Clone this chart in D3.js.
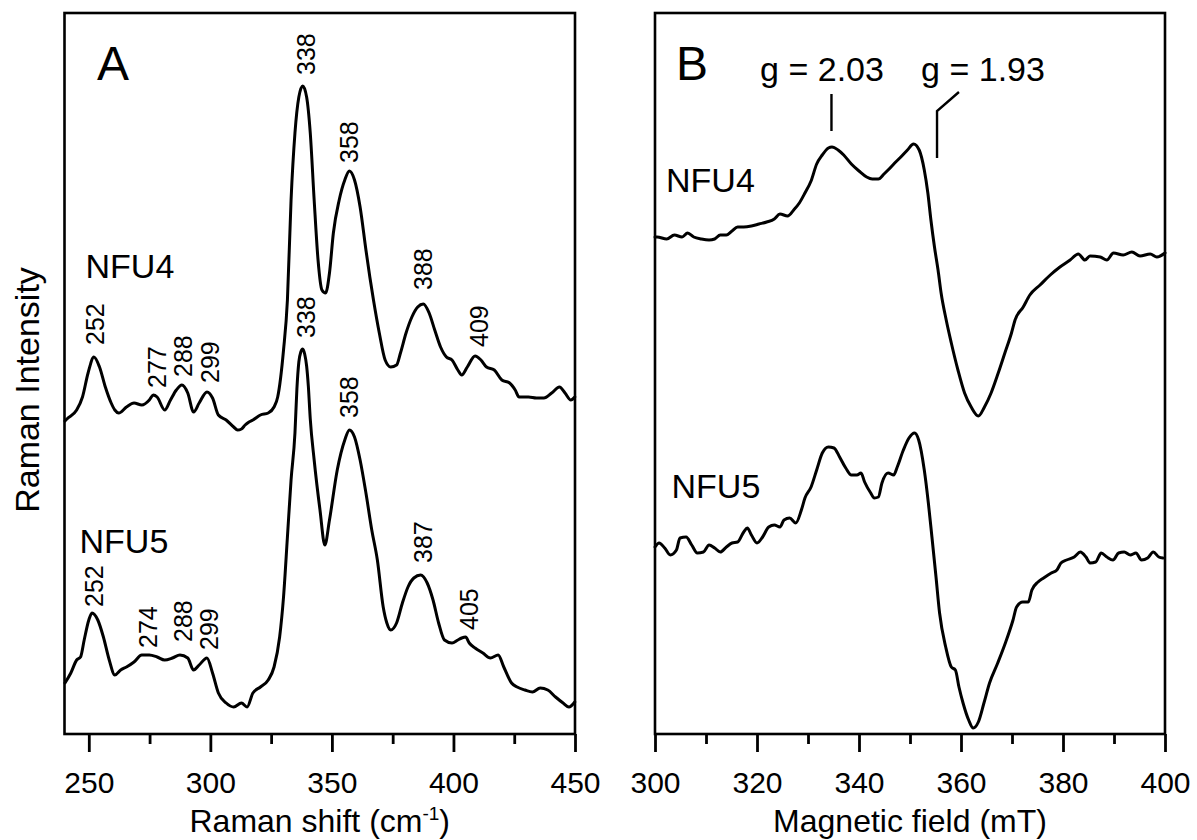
<!DOCTYPE html>
<html><head><meta charset="utf-8">
<script src="https://cdn.jsdelivr.net/npm/d3@7/dist/d3.min.js"></script>
<style>
body{margin:0;background:#fff}
svg{display:block}
text{font-family:"Liberation Sans",Arial,Helvetica,sans-serif;fill:#000}
</style></head><body>
<svg id="chart" width="1197" height="840"></svg>
<script>
// ---------------- DATA ----------------
// Panel A: Raman spectra (x: Raman shift, cm-1; y: intensity, arbitrary units)
const ramanShiftNFU4 = [240.2,241.0,245.0,247.4,249.7,252.1,254.4,256.8,259.2,260.7,262.3,265.5,268.6,271.8,274.9,276.5,278.1,281.2,283.6,286.0,288.3,290.7,293.1,295.4,298.6,300.9,303.3,306.5,309.6,311.2,312.8,314.3,315.9,317.5,320.6,323.8,326.2,327.7,330.1,331.7,333.2,334.8,336.4,338.0,339.6,341.1,342.7,344.3,345.9,347.4,349.0,350.6,353.0,355.3,357.2,359.3,361.6,364.0,365.6,367.1,369.5,371.9,374.2,376.6,378.2,380.5,382.9,385.3,387.6,390.0,392.3,394.7,397.1,399.4,401.8,403.4,405.7,408.9,411.3,413.6,416.8,419.9,423.1,425.4,427.0,430.9,434.1,437.2,440.4,443.6,445.9,448.3,449.9];
const ramanNFU4 = [313,315,324,337,361,377,367,347,331,324,321,327,331,329,334,339,337,324,334,344,349,341,322,331,342,336,319,314,307,304,305,309,312,314,319,321,327,337,384,434,534,601,637,648,637,601,534,474,444,441,461,501,534,554,563,554,527,484,457,434,401,374,367,369,381,401,417,427,430,421,404,387,377,374,364,359,367,378,374,367,364,354,351,344,337,337,336,336,341,347,341,334,337];

const ramanShiftNFU5 = [240.2,242.6,245.0,246.6,248.1,250.0,251.3,253.7,256.0,258.4,260.7,263.1,265.5,268.6,271.8,274.9,278.1,281.2,284.4,287.5,290.7,293.1,295.4,298.6,300.9,303.3,306.5,309.6,312.8,315.1,317.5,320.6,323.8,326.2,328.5,330.1,331.7,333.2,334.8,335.6,336.4,337.2,338.0,338.8,339.6,340.3,341.1,342.7,345.1,347.1,349.0,352.2,355.3,357.2,359.3,361.6,364.0,366.4,368.7,371.1,372.6,374.2,376.6,379.0,381.3,383.7,386.5,389.2,391.6,393.9,396.3,399.4,401.8,403.4,405.0,406.5,408.9,412.1,415.2,418.4,420.7,423.9,426.2,429.4,432.5,435.7,438.8,442.0,445.1,447.5,449.9];
const ramanNFU5 = [51,61,74,77,94,114,121,114,97,74,59,64,67,72,79,79,77,74,76,79,76,64,69,76,61,41,31,27,31,27,41,47,54,67,97,137,197,254,301,345,372,382,385,380,368,348,315,274,224,189,214,264,294,304,297,274,241,204,174,127,111,104,111,131,147,156,159,151,134,111,94,91,94,96,97,91,86,81,76,79,67,51,47,44,42,46,44,37,31,27,32];

// Peak annotations, panel A
const peakTextNFU4  = ["252","277","288","299","338","358","388","409"];
const peakShiftNFU4 = [252.6,278.1,288.8,299.9,339.6,357.2,387.6,410.5];
const peakLevelNFU4 = [389,346,357,351,659,571,444,387];
const peakTextNFU5  = ["252","274","288","299","338","358","387","405"];
const peakShiftNFU5 = [252.1,274.4,288.8,299.4,339.6,357.2,387.6,406.5];
const peakLevelNFU5 = [127,86,92,84,396,316,171,104];

// Panel B: EPR spectra (x: magnetic field, mT; y: derivative signal, arbitrary units)
const fieldNFU4 = [300.0,300.4,302.3,303.8,305.3,306.4,307.6,309.1,310.6,311.7,312.8,314.0,315.1,316.2,317.4,318.9,320.4,321.9,323.4,324.5,326.0,327.2,328.3,329.4,330.6,331.7,332.8,334.0,334.7,335.9,337.0,338.5,340.0,341.5,342.6,343.8,344.9,345.7,347.0,348.2,349.5,350.7,351.8,352.8,353.5,354.1,354.8,355.5,356.1,357.1,358.1,359.4,360.7,362.0,363.4,364.6,365.9,367.3,368.6,369.9,370.6,372.2,373.5,375.5,377.5,379.4,381.4,383.0,384.3,385.3,387.3,388.6,389.9,391.8,393.5,395.1,397.1,398.4,400.0];
const eprNFU4 = [497,497,495,499,497,501,497,495,494,495,499,499,503,507,507,508,510,512,515,520,518,524,531,541,553,570,579,586,587,584,579,570,563,557,555,555,560,564,571,577,584,590,584,564,541,514,487,464,441,414,391,364,341,327,318,327,341,361,381,401,414,427,439,449,459,467,474,480,474,478,477,474,481,479,482,478,480,477,481];

const fieldNFU5 = [300.0,300.8,301.9,303.0,304.2,304.9,306.1,307.2,308.3,309.5,310.6,311.7,312.8,314.0,315.1,316.2,317.4,318.1,318.9,320.0,321.1,322.3,323.4,324.5,325.3,326.4,327.6,328.7,329.4,330.6,331.7,332.8,334.0,335.1,336.2,337.4,338.5,339.6,340.4,341.1,342.3,343.0,343.8,344.5,345.7,346.8,347.5,348.7,349.8,350.9,351.7,352.8,353.6,354.3,355.1,355.8,357.0,358.1,358.9,359.6,360.4,361.5,362.4,363.4,364.5,365.6,367.2,368.7,370.2,370.9,372.1,373.2,373.9,375.1,376.2,377.7,378.8,379.6,380.7,382.2,383.4,384.5,385.3,386.4,387.5,388.6,389.8,390.9,392.0,393.2,394.3,395.4,396.6,397.7,398.8,399.6];
const eprNFU5 = [187,191,186,179,184,196,197,189,181,182,189,186,182,187,191,192,202,206,199,191,197,207,209,207,214,216,211,224,236,247,264,281,287,286,277,266,259,259,261,252,241,236,237,251,261,259,267,284,296,301,294,264,231,197,157,121,87,67,64,47,31,14,6,12,31,51,71,91,114,127,132,132,144,152,156,161,164,171,174,177,182,177,171,172,181,177,174,181,182,179,181,174,176,182,177,176];

// g-value markers, panel B
const gText = ["g = 2.03","g = 1.93"];
const gMarkField = [[334.6,334.6],[355.3,355.3,359.6]];
const gMarkLevel = [[603,640],[576,623,642]];

// Axis ticks
const ramanMajorTicks = [250,300,350,400,450];
const ramanMinorTicks = [275,325,375,425];
const fieldMajorTicks = [300,320,340,360,380,400];
const fieldMinorTicks = [310,330,350,370,390];

// ---------------- DRAWING ----------------
const svg = d3.select("#chart");
const plotTop = 13, plotBottom = 734;
const y = d3.scaleLinear().domain([0,721]).range([plotBottom, plotTop]);
const xA = d3.scaleLinear().domain([240,450]).range([64.5,575]);
const xB = d3.scaleLinear().domain([300,400]).range([655,1165]);
const FONT = '"Liberation Sans",Arial,Helvetica,sans-serif';

function frame(xs){
  svg.append("rect")
    .attr("x", xs.range()[0]).attr("y", plotTop)
    .attr("width", xs.range()[1]-xs.range()[0]).attr("height", plotBottom-plotTop)
    .attr("fill","none").attr("stroke","#000").attr("stroke-width",2.6);
}
function series(xs, xv, yv){
  const pts = xv.map((v,i)=>[v, yv[i]]);
  svg.append("path").datum(pts)
    .attr("fill","none").attr("stroke","#000").attr("stroke-width",3)
    .attr("stroke-linejoin","round").attr("stroke-linecap","round")
    .attr("d", d3.line().x(d=>xs(d[0])).y(d=>y(d[1])).curve(d3.curveMonotoneX));
}
function axis(xs, majors, minors){
  const g = svg.append("g").attr("transform",`translate(0,${plotBottom})`);
  g.call(d3.axisBottom(xs).tickValues(majors).tickSize(18).tickPadding(20).tickFormat(d3.format("d")));
  g.select(".domain").remove();
  g.selectAll(".tick line").attr("stroke","#000").attr("stroke-width",2.8);
  g.selectAll(".tick text").attr("font-size",30).attr("font-family",FONT).attr("fill","#000");
  const g2 = svg.append("g").attr("transform",`translate(0,${plotBottom})`);
  g2.call(d3.axisBottom(xs).tickValues(minors).tickSize(10).tickFormat(""));
  g2.select(".domain").remove();
  g2.selectAll(".tick line").attr("stroke","#000").attr("stroke-width",2.8);
}
function peakLabels(xs, texts, pos, lev){
  svg.append("g").selectAll("text").data(texts).join("text")
    .attr("transform",(d,i)=>`translate(${xs(pos[i])},${y(lev[i])}) rotate(-90)`)
    .attr("dy","0.35em").attr("text-anchor","start").attr("font-size",25)
    .text(d=>d);
}
function label(txt, x, yy, size, anchor){
  svg.append("text").attr("x",x).attr("y",yy).attr("font-size",size)
    .attr("text-anchor",anchor||"start").text(txt);
}

// Panel A
frame(xA);
series(xA, ramanShiftNFU4, ramanNFU4);
series(xA, ramanShiftNFU5, ramanNFU5);
axis(xA, ramanMajorTicks, ramanMinorTicks);
peakLabels(xA, peakTextNFU4, peakShiftNFU4, peakLevelNFU4);
peakLabels(xA, peakTextNFU5, peakShiftNFU5, peakLevelNFU5);
label("A", 97, 80, 48);
label("NFU4", 85.5, 278, 34);
label("NFU5", 79.5, 553, 34);

// Panel B
frame(xB);
series(xB, fieldNFU4, eprNFU4);
series(xB, fieldNFU5, eprNFU5);
axis(xB, fieldMajorTicks, fieldMinorTicks);
label("B", 676, 80, 48);
label("NFU4", 666, 192, 34);
label("NFU5", 671.5, 498, 34);
label(gText[0], 822, 81, 34, "middle");
label(gText[1], 983, 81, 34, "middle");
gMarkField.forEach((f,k)=>{
  const pts = f.map((v,i)=>[v, gMarkLevel[k][i]]);
  svg.append("path").datum(pts).attr("fill","none").attr("stroke","#000").attr("stroke-width",2.4)
    .attr("d", d3.line().x(d=>xB(d[0])).y(d=>y(d[1])));
});

// Axis titles
svg.append("text").attr("transform","translate(39,390) rotate(-90)")
  .attr("text-anchor","middle").attr("font-size",34).text("Raman Intensity");
const tA = svg.append("text").attr("x", (xA.range()[0]+xA.range()[1])/2).attr("y",832)
  .attr("text-anchor","middle").attr("font-size",32);
tA.append("tspan").text("Raman shift (cm");
tA.append("tspan").attr("font-size",19).attr("dy",-12).text("-1");
tA.append("tspan").attr("dy",12).text(")");
svg.append("text").attr("x",(xB.range()[0]+xB.range()[1])/2).attr("y",832)
  .attr("text-anchor","middle").attr("font-size",32).text("Magnetic field (mT)");
</script>
</body></html>
